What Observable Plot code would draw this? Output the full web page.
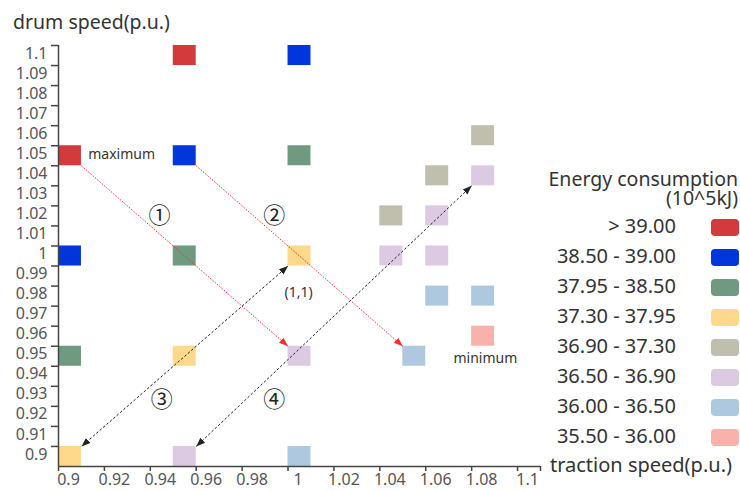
<!DOCTYPE html>
<html><head><meta charset="utf-8">
<script src="https://cdn.jsdelivr.net/npm/d3@7"></script>
<script src="https://cdn.jsdelivr.net/npm/@observablehq/plot@0.6"></script>
<style>
body{margin:0;background:#fff;font-family:"Noto Sans",sans-serif;}
#wrap{position:relative;width:740px;height:491px;overflow:hidden;}
.lbl{position:absolute;white-space:nowrap;color:#333;line-height:1;}
.sw{position:absolute;width:28px;height:17px;border-radius:4px;}
</style></head><body><div id="wrap"></div>
<script>
// ---- data ----
const levelLabels = ["> 39.00","38.50 - 39.00","37.95 - 38.50","37.30 - 37.95","36.90 - 37.30","36.50 - 36.90","36.00 - 36.50","35.50 - 36.00"];
const levelColors = ["#d23a3c","#0036dc","#6f9a7f","#fed98b","#c0bead","#dccae2","#aec8e0","#f9b1ab"];
const cellX = [0.9,0.9,0.9,0.9, 0.95,0.95,0.95,0.95,0.95, 1.0,1.0,1.0,1.0,1.0, 1.04,1.04, 1.05, 1.06,1.06,1.06,1.06, 1.08,1.08,1.08,1.08];
const cellY = [1.05,1.0,0.95,0.9, 1.1,1.05,1.0,0.95,0.9, 1.1,1.05,1.0,0.95,0.9, 1.02,1.0, 0.95, 1.04,1.02,1.0,0.98, 1.06,1.04,0.98,0.96];
const cellLevel = [0,1,2,3, 0,1,2,3,5, 1,2,3,5,6, 4,5, 6, 4,5,5,6, 4,5,6,7];
const cellSize = 0.01;

const arrowFromX = [0.91, 0.96, 1.0, 1.08];
const arrowFromY = [1.04, 1.04, 0.99, 1.03];
const arrowToX = [1.0, 1.05, 0.91, 0.96];
const arrowToY = [0.95, 0.95, 0.9, 0.9];
const arrowKind = ["red","red","black","black"];

const stepLabels = ["①","②","③","④"];
const stepX = [0.944, 0.994, 0.945, 0.994];
const stepY = [1.015, 1.015, 0.923, 0.923];

const noteText = ["maximum","minimum","(1,1)"];
const noteX = [0.9275, 1.086, 1.0046];
const noteY = [1.0458, 0.944, 0.9766];

const xTicks = [0.9,0.92,0.94,0.96,0.98,1.0,1.02,1.04,1.06,1.08,1.1];
const yTicks = [0.9,0.91,0.92,0.93,0.94,0.95,0.96,0.97,0.98,0.99,1.0,1.01,1.02,1.03,1.04,1.05,1.06,1.07,1.08,1.09,1.1];
const xDomain = [0.9, 1.11];
const yDomain = [0.89, 1.1];

const yTitle = "drum speed(p.u.)";
const xTitle = "traction speed(p.u.)";
const legendTitle1 = "Energy consumption";
const legendTitle2 = "(10^5kJ)";

// ---- tables ----
const cells = cellX.map((x,i)=>({x, y: cellY[i], level: levelLabels[cellLevel[i]]}));
const arrows = arrowFromX.map((x,i)=>({x1:x, y1:arrowFromY[i], x2:arrowToX[i], y2:arrowToY[i], kind: arrowKind[i]}));
const steps = stepLabels.map((t,i)=>({t, x: stepX[i], y: stepY[i]}));
const notes = noteText.map((t,i)=>({t, x: noteX[i], y: noteY[i]}));
const fmt = d => String(+d.toFixed(2));

function triMarker(orient) {
  return (color, context) => {
    const doc = (context && context.document) || document;
    const ns = "http://www.w3.org/2000/svg";
    const m = doc.createElementNS(ns, "marker");
    m.setAttribute("viewBox", "0 -5 10 10");
    m.setAttribute("refX", "10");
    m.setAttribute("refY", "0");
    m.setAttribute("markerUnits", "userSpaceOnUse");
    m.setAttribute("markerWidth", "9");
    m.setAttribute("markerHeight", "9");
    m.setAttribute("orient", orient);
    const p = doc.createElementNS(ns, "path");
    p.setAttribute("d", "M0,-3.8L10,0L0,3.8Z");
    p.setAttribute("fill", color);
    p.setAttribute("stroke", "none");
    p.setAttribute("stroke-dasharray", "none");
    m.appendChild(p);
    return m;
  };
}

const chart = Plot.plot({
  width: 740, height: 491,
  marginLeft: 58, marginRight: 200, marginTop: 45, marginBottom: 25,
  style: {fontFamily: "Noto Sans, sans-serif", fontSize: "16px", background: "transparent"},
  x: {domain: xDomain, label: null},
  y: {domain: yDomain, label: null},
  color: {type: "ordinal", domain: levelLabels, range: levelColors},
  marks: [
    Plot.rect(cells, {x1: "x", x2: d => d.x + cellSize, y1: d => d.y - cellSize, y2: "y", fill: "level"}),
    Plot.link(arrows.filter(d=>d.kind==="red"), {x1:"x1", y1:"y1", x2:"x2", y2:"y2", stroke: "#ff2a2a", strokeWidth: 1, strokeDasharray: "1.5,1.5", markerEnd: triMarker("auto")}),
    Plot.link(arrows.filter(d=>d.kind==="black"), {x1:"x1", y1:"y1", x2:"x2", y2:"y2", stroke: "#222", strokeWidth: 1, strokeDasharray: "2.5,2", markerStart: triMarker("auto-start-reverse"), markerEnd: triMarker("auto")}),
    Plot.text(steps, {x: "x", y: "y", text: "t", fontSize: 22, fontFamily: "Noto Sans CJK SC", fill: "#222"}),
    Plot.text(notes, {x: "x", y: "y", text: "t", fontSize: 14, fill: "#333"}),
    Plot.ruleX([xDomain[0]], {stroke: "#444", strokeWidth: 1.5}),
    Plot.ruleY([yDomain[0]], {stroke: "#444", strokeWidth: 1.5}),
    // y ticks (marks) and labels (shifted to the cell centres)
    Plot.axisY({ticks: yTicks, tickSize: 7, stroke: "#444", fill: "none", strokeWidth: 1.5, label: null}),
    Plot.axisY({ticks: yTicks, tickFormat: fmt, tickSize: 0, tickPadding: 11, fill: "#555", fontSize: 16, dy: 8, label: null}),
    // x ticks (marks) and labels
    Plot.axisX({ticks: [...xTicks, xDomain[1]], tickSize: 5, stroke: "#444", fill: "none", strokeWidth: 1.5, label: null}),
    Plot.axisX({ticks: xTicks, tickFormat: fmt, tickSize: 0, tickPadding: 7, fill: "#555", fontSize: 16, dx: 10, label: null})
  ]
});

const wrap = document.getElementById("wrap");
chart.style.position = "absolute";
chart.style.left = "0px";
chart.style.top = "0px";
wrap.appendChild(chart);

function addText(txt, css) {
  const d = document.createElement("div");
  d.className = "lbl";
  d.textContent = txt;
  Object.assign(d.style, css);
  wrap.appendChild(d);
  return d;
}
addText(yTitle, {left: "13px", top: "12px", fontSize: "19.5px"});
addText(xTitle, {right: "8px", top: "455px", fontSize: "20px"});
addText(legendTitle1 + "\n" + legendTitle2, {right: "2px", top: "169px", fontSize: "19.5px", lineHeight: "19px", whiteSpace: "pre", textAlign: "right"});
levelLabels.forEach((lab, i) => {
  const cy = 227 + 30 * i;
  addText(lab, {right: (740 - 676) + "px", top: (cy - 11) + "px", fontSize: "20px"});
  const s = document.createElement("div");
  s.className = "sw";
  s.style.left = "711px";
  s.style.top = (cy - 8) + "px";
  s.style.background = levelColors[i];
  wrap.appendChild(s);
});
</script></body></html>
